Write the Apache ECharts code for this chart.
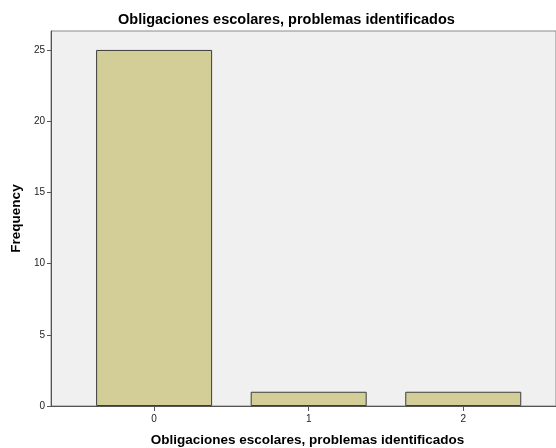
<!DOCTYPE html>
<html>
<head>
<meta charset="utf-8">
<script src="https://cdn.jsdelivr.net/npm/echarts@6/dist/echarts.min.js"></script>
<style>
  html, body { margin: 0; padding: 0; background: #fff; }
  #chart { width: 556px; height: 448px; }
</style>
</head>
<body>
<div id="chart"></div>
<script>
  var categories = [0, 1, 2];
  var frequency = [25, 1, 1];
  var yTicks = [0, 5, 10, 15, 20, 25];

  var font = 'Liberation Sans, Arial, sans-serif';

  var records = categories.map(function (c, i) {
    return [c, frequency[i]];
  });

  var myChart = echarts.init(document.getElementById('chart'), null, {renderer: 'canvas'});

  var option = {
    animation: false,
    title: {
      text: 'Obligaciones escolares, problemas identificados',
      left: 113,
      top: 7,
      textStyle: {
        fontFamily: font,
        fontSize: 14.5,
        fontWeight: 'bold',
        color: '#000'
      }
    },
    grid: {
      left: 51,
      right: 0,
      top: 31,
      bottom: 42,
      outerBoundsMode: 'none',
      show: true,
      backgroundColor: '#f0f0f0',
      borderColor: '#8a8a8a',
      borderWidth: 1
    },
    xAxis: {
      type: 'value',
      min: -0.667,
      max: 2.6,
      splitLine: {show: false},
      name: 'Obligaciones escolares, problemas identificados',
      nameLocation: 'middle',
      nameGap: 27,
      nameTextStyle: {
        fontFamily: font,
        fontSize: 13.5,
        fontWeight: 'bold',
        color: '#000',
        padding: [0, 0, 0, 8]
      },
      axisLine: {onZero: false, lineStyle: {color: '#555', width: 1}},
      axisTick: {
        show: true,
        length: 5,
        customValues: categories,
        lineStyle: {color: '#555'}
      },
      axisLabel: {
        customValues: categories,
        margin: 8,
        fontFamily: font,
        fontSize: 10,
        color: '#222'
      }
    },
    yAxis: {
      type: 'value',
      min: 0,
      max: 26.33,
      interval: 5,
      splitLine: {show: false},
      name: 'Frequency',
      nameLocation: 'middle',
      nameGap: 23,
      nameRotate: 90,
      nameTextStyle: {
        fontFamily: font,
        fontSize: 13.5,
        fontWeight: 'bold',
        color: '#000'
      },
      axisLine: {show: true, onZero: false, lineStyle: {color: '#555', width: 1}},
      axisTick: {
        show: true,
        length: 4,
        customValues: yTicks,
        lineStyle: {color: '#555'}
      },
      axisLabel: {
        customValues: yTicks,
        margin: 6,
        fontFamily: font,
        fontSize: 10,
        color: '#222'
      }
    },
    series: [
      {
        type: 'bar',
        barWidth: 116,
        data: records,
        itemStyle: {
          color: '#d3ce97',
          borderColor: '#3c3c3c',
          borderWidth: 1
        }
      }
    ]
  };

  myChart.setOption(option);
</script>
</body>
</html>
